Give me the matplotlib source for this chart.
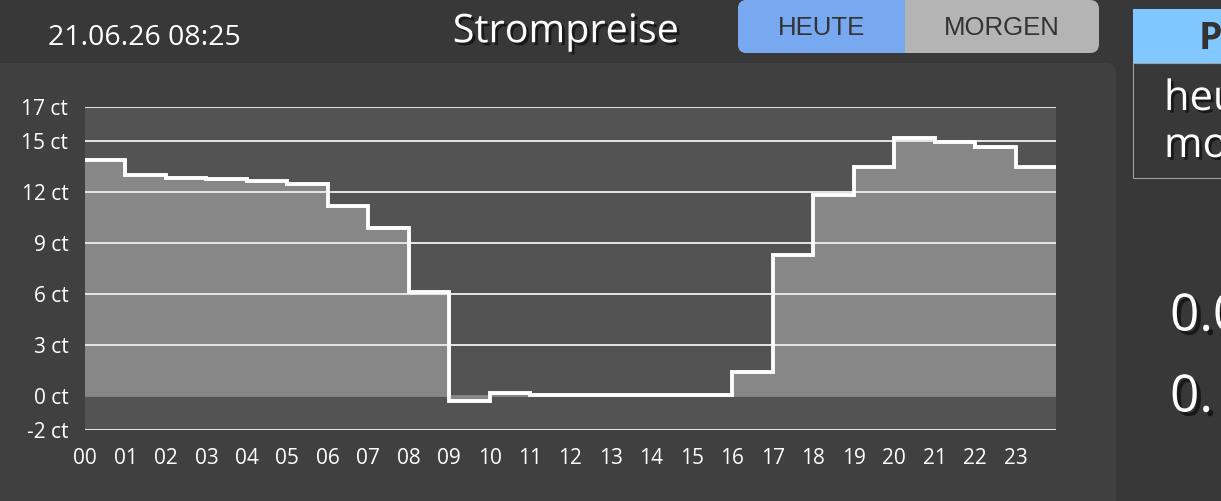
import matplotlib
matplotlib.use("Agg")
import matplotlib.pyplot as plt
import matplotlib.patheffects as pe
from matplotlib.patches import FancyBboxPatch, Rectangle
import numpy as np

# =========================
# DATA
# =========================
hours = list(range(24))
hour_labels = [f"{h:02d}" for h in hours]
prices_ct = [13.9, 13.0, 12.85, 12.75, 12.65, 12.45, 11.2, 9.9,
             6.1, -0.3, 0.2, 0.05, 0.05, 0.05, 0.05, 0.05,
             1.4, 8.3, 11.8, 13.5, 15.15, 14.95, 14.65, 13.5]
y_ticks = [-2, 0, 3, 6, 9, 12, 15, 17]
y_tick_labels = [f"{v} ct" for v in y_ticks]

stamp = "21.06.26 08:25"
title = "Strompreise"
tab_today = "HEUTE"
tab_tomorrow = "MORGEN"
side_header = "P"
side_rows = ["heu", "mo"]
side_values = ["0.0", "0."]

W, H = 1221, 501
FONT = ["Open Sans", "DejaVu Sans"]

fig = plt.figure(figsize=(W / 100, H / 100), dpi=100, facecolor="#383838")

# =========================
# BACKGROUND (pixel coords)
# =========================
bg = fig.add_axes([0, 0, 1, 1])
bg.set_xlim(0, W)
bg.set_ylim(H, 0)
bg.axis("off")

bg.add_patch(FancyBboxPatch((-20, 63), 1136, 470, boxstyle="round,pad=0,rounding_size=10",
                            fc="#404040", ec="none"))

shadow = [pe.withSimplePatchShadow(offset=(2, -2), shadow_rgbFace="black", alpha=0.55)]
shadow_big = [pe.withSimplePatchShadow(offset=(3, -3), shadow_rgbFace="black", alpha=0.55)]

bg.text(48, 38, stamp, color="white", fontsize=20.5, family=FONT, ha="left", va="center")
bg.text(566, 27, title, color="white", fontsize=28.5, family=FONT, ha="center",
        va="center_baseline", path_effects=shadow)

# tabs
bg.add_patch(FancyBboxPatch((738, 0), 361, 53, boxstyle="round,pad=0,rounding_size=9",
                            fc="#b4b4b4", ec="none"))
bg.add_patch(FancyBboxPatch((738, 0), 180, 53, boxstyle="round,pad=0,rounding_size=9",
                            fc="#78a8f0", ec="none"))
bg.add_patch(Rectangle((895, 0), 10, 53, fc="#78a8f0", ec="none"))
bg.add_patch(Rectangle((905, 0), 20, 53, fc="#b4b4b4", ec="none"))
bg.text(821, 28, tab_today, color="#333333", fontsize=18.5, family="Liberation Sans",
        ha="center", va="center")
bg.text(1002, 28, tab_tomorrow, color="#333333", fontsize=18.5, family="Liberation Sans",
        ha="center", va="center")

# side panel
bg.add_patch(Rectangle((1133, 63), 120, 115, fc="#383838", ec="#a0a0a0", lw=0.8))
bg.add_patch(Rectangle((1133, 9), 120, 54, fc="#80c8ff", ec="none"))
bg.text(1199, 39, side_header, color="#333333", fontsize=27, fontweight="bold",
        family=FONT, ha="left", va="center")
bg.text(1164, 99, side_rows[0], color="white", fontsize=30, family=FONT,
        ha="left", va="center", path_effects=shadow)
bg.text(1164, 146, side_rows[1], color="white", fontsize=30, family=FONT,
        ha="left", va="center", path_effects=shadow)
bg.text(1170, 317, side_values[0], color="white", fontsize=37, family=FONT,
        ha="left", va="center", path_effects=shadow_big)
bg.text(1170, 398, side_values[1], color="white", fontsize=37, family=FONT,
        ha="left", va="center", path_effects=shadow_big)

# =========================
# PRICE CHART
# =========================
x0, x1, y0, y1 = 85, 1056, 107, 430
ax = fig.add_axes([x0 / W, 1 - y1 / H, (x1 - x0) / W, (y1 - y0) / H])
ax.set_facecolor("#535353")

x_edges = np.arange(len(hours) + 1)
y_steps = prices_ct + [prices_ct[-1]]
ax.fill_between(x_edges, 0, y_steps, step="post", color="#878787", lw=0, zorder=1)

for v in y_ticks:
    if v == 0:
        ax.axhline(v, color="#8a8a8a", lw=1.2, zorder=2)
    else:
        ax.axhline(v, color="#e6e6e6", lw=1.4, zorder=2)

ax.step(x_edges, y_steps, where="post", color="white", lw=2.8, zorder=3,
        solid_joinstyle="miter")

ax.set_xlim(0, 24)
ax.set_ylim(-2, 17)
ax.set_xticks(hours)
ax.set_xticklabels(hour_labels)
ax.set_yticks(y_ticks)
ax.set_yticklabels(y_tick_labels)
ax.tick_params(axis="both", length=0, colors="white", labelsize=15)
ax.tick_params(axis="x", pad=13)
ax.tick_params(axis="y", pad=12)
for lbl in ax.get_xticklabels() + ax.get_yticklabels():
    lbl.set_family(FONT)
for s in ax.spines.values():
    s.set_visible(False)

fig.savefig("out.png", dpi=100, facecolor=fig.get_facecolor())
